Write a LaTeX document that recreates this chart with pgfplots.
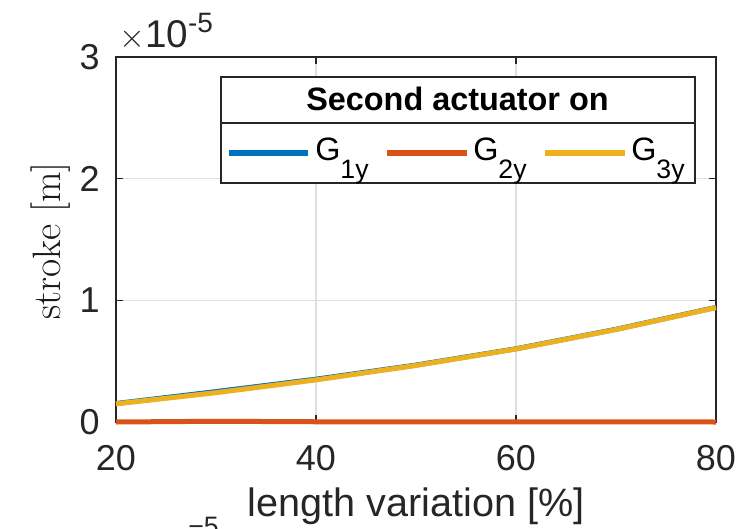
\documentclass[border=0pt]{standalone}
\usepackage{fontspec}
\newfontfamily\arial{Liberation Sans}
\usepackage{pgfplots}
\usepackage{pgfplotstable}
\pgfplotsset{compat=1.18}

\definecolor{mblue}{rgb}{0,0.447,0.741}
\definecolor{morange}{rgb}{0.85,0.325,0.098}
\definecolor{myellow}{rgb}{0.929,0.694,0.125}
\definecolor{axgray}{rgb}{0.15,0.15,0.15}
\definecolor{gridgray}{rgb}{0.88,0.88,0.88}

% stroke [m] vs length variation [%]
\pgfplotstableread{
x   g1        g2        g3
20  1.52e-6   0.0       1.49e-6
30  2.50e-6   0.06e-6   2.41e-6
40  3.52e-6   0.02e-6   3.46e-6
50  4.68e-6   0.01e-6   4.65e-6
60  6.02e-6   0.01e-6   6.00e-6
70  7.62e-6   0.02e-6   7.60e-6
80  9.42e-6   0.0       9.40e-6
}\strokedata

\begin{document}
\begin{tikzpicture}
\useasboundingbox (0,0) rectangle (558pt,-396.75pt);
\begin{axis}[
  at={(87pt,-316.5pt)}, anchor=south west,
  scale only axis,
  width=450pt, height=273.75pt,
  xmin=20, xmax=80, ymin=0, ymax=3e-5,
  xtick={20,40,60,80},
  ytick={0,1e-5,2e-5,3e-5},
  scaled y ticks=base 10:5,
  ytick scale label code/.code={},
  clip=false,
  grid=major,
  major grid style={gridgray, line width=0.9pt},
  axis line style={axgray, line width=1.2pt},
  tick style={axgray, line width=1.2pt},
  major tick length=5pt,
  tick align=inside,
  /pgf/number format/assume math mode=true,
  ticklabel style={font=\arial\fontsize{27}{30}\selectfont, text=axgray, inner sep=0pt},
  xticklabel style={anchor=north, yshift=-17pt},
  yticklabel style={anchor=east, xshift=-12pt},
  xlabel={length variation [\%]},
  xlabel style={at={(axis description cs:0.5,-0.26)}, anchor=base,
    font=\arial\fontsize{29.7}{32}\selectfont, text=axgray, inner sep=0pt},
  ylabel={stroke [m]},
  ylabel style={at={(axis description cs:-0.0933,0.496)}, anchor=base,
    font=\rmfamily\fontsize{29.7}{32}\selectfont, text=black!90, inner sep=0pt},
  every axis plot/.append style={line width=3.75pt, line join=round, mark=none},
]
\addplot[mblue] table[x=x, y=g1] {\strokedata};
\addplot[morange] table[x=x, y=g2] {\strokedata};
\addplot[myellow] table[x=x, y=g3] {\strokedata};
\end{axis}

\begin{scope}[x=0.75pt, y=-0.75pt]
  % exponent label
  \node[anchor=base west, inner sep=0pt, text=axgray,
        font=\arial\fontsize{29}{31}\selectfont] at (119,47)
        {$\times$10\raisebox{11pt}{\fontsize{21}{23}\selectfont -5}};
  % legend
  \draw[axgray, line width=1.1pt, fill=white] (221,77) rectangle (695,183);
  \draw[axgray, line width=1.1pt] (221,123) -- (695,123);
  \node[anchor=base, inner sep=0pt, font=\arial\bfseries\fontsize{24.3}{26}\selectfont]
        at (457.5,110) {Second actuator on};
  \draw[mblue, line width=4pt] (229,153) -- (308,153);
  \draw[morange, line width=4pt] (387,153) -- (467,153);
  \draw[myellow, line width=4pt] (545,153) -- (625,153);
  \node[anchor=base west, inner sep=0pt, font=\arial\fontsize{24.3}{26}\selectfont]
        at (315,160) {G\raisebox{-13.5pt}{\fontsize{20}{22}\selectfont 1y}};
  \node[anchor=base west, inner sep=0pt, font=\arial\fontsize{24.3}{26}\selectfont]
        at (473,160) {G\raisebox{-13.5pt}{\fontsize{20}{22}\selectfont 2y}};
  \node[anchor=base west, inner sep=0pt, font=\arial\fontsize{24.3}{26}\selectfont]
        at (631,160) {G\raisebox{-13.5pt}{\fontsize{20}{22}\selectfont 3y}};
  % cut-off exponent of the figure below
  \node[anchor=north west, inner sep=0pt, text=axgray,
        font=\arial\fontsize{20}{22}\selectfont] at (188,517) {−5};
\end{scope}
\end{tikzpicture}
\end{document}
